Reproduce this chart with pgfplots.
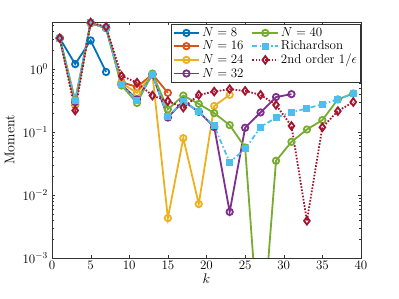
\RequirePackage{fix-cm}
\documentclass[12pt,border=0pt]{standalone}
\usepackage{pgfplots}
\pgfplotsset{compat=1.18}
\definecolor{c1}{rgb}{0,0.447,0.741}
\definecolor{c2}{rgb}{0.85,0.325,0.098}
\definecolor{c3}{rgb}{0.929,0.694,0.125}
\definecolor{c4}{rgb}{0.494,0.184,0.556}
\definecolor{c5}{rgb}{0.466,0.674,0.188}
\definecolor{c6}{rgb}{0.301,0.745,0.933}
\definecolor{c7}{rgb}{0.635,0.078,0.184}
\newcommand{\myfont}{\fontsize{13}{15}\selectfont}
\newcommand{\labfont}{\fontsize{14}{16}\selectfont}
\pgfplotsset{
  sA/.style={c1, line width=1.8pt, mark=o, mark size=3.2pt, mark options={solid}},
  sB/.style={c2, line width=1.8pt, mark=o, mark size=3.2pt, mark options={solid}},
  sC/.style={c3, line width=1.8pt, mark=o, mark size=3.2pt, mark options={solid}},
  sD/.style={c4, line width=1.8pt, mark=o, mark size=3.2pt, mark options={solid}},
  sE/.style={c5, line width=1.8pt, mark=o, mark size=3.2pt, mark options={solid}},
  sF/.style={c6, line width=1.8pt, dash pattern=on 5pt off 2.5pt on 1.5pt off 2.5pt, mark=square*, mark size=2.6pt, mark options={solid}},
  sG/.style={c7, line width=1.8pt, dash pattern=on 1.6pt off 1.6pt, mark=diamond, mark size=3.8pt, mark options={solid}},
}
\begin{document}
\begin{tikzpicture}[font=\myfont]
\useasboundingbox (0,0) rectangle (399pt,299pt);
\begin{axis}[
  at={(52pt,41pt)}, anchor=south west, scale only axis,
  width=309pt, height=236pt,
  xmin=0, xmax=40, ymode=log, ymin=1e-3, ymax=5.6,
  xtick={0,5,...,40},
  tick align=inside, major tick length=3pt, minor tick length=1.6pt,
  axis line style={black!80}, tick style={black!80},
  tick label style={font=\myfont},
  label style={font=\labfont},
  xticklabel style={yshift=1pt},
  xlabel={$k$}, ylabel={Moment},
  xlabel style={yshift=4pt},
  ylabel style={yshift=0pt},
  legend columns=2,
  legend cell align=left,
  legend style={font=\myfont, at={(rel axis cs:0.997,0.99)}, anchor=north east, draw=black!80, line width=0.5pt, inner sep=1pt, row sep=-1.5pt,
    /tikz/every even column/.append style={column sep=6pt}},
  legend image code/.code={\draw[mark repeat=2,mark phase=2] plot coordinates {(0cm,0cm)(0.45cm,0cm)(0.9cm,0cm)};},
]
\addplot[sA, forget plot] coordinates {(1,3.1)(3,1.2)(5,2.85)(7,0.9)};
\addplot[sB, forget plot] coordinates {(1,3.1)(3,0.27)(5,5.4)(7,4.5)(9,0.62)(11,0.52)(13,0.83)(15,0.42)};
\addplot[sC, forget plot] coordinates {(1,3.1)(3,0.28)(5,5.4)(7,4.5)(9,0.60)(11,0.42)(13,0.83)(15,0.0043)(17,0.08)(19,0.0072)(21,0.26)(23,0.39)};
\addplot[sD, forget plot] coordinates {(1,3.1)(3,0.30)(5,5.4)(7,4.5)(9,0.57)(11,0.33)(13,0.82)(15,0.17)(17,0.31)(19,0.21)(21,0.12)(23,0.0054)(25,0.117)(27,0.205)(29,0.36)(31,0.40)};
\addplot[sE, forget plot] coordinates {(1,3.1)(3,0.32)(5,5.4)(7,4.5)(9,0.55)(11,0.29)(13,0.85)(15,0.23)(17,0.38)(19,0.28)(21,0.20)(23,0.129)(25,0.057)(27,2.5e-5)(29,0.035)(31,0.07)(33,0.11)(35,0.155)(37,0.33)(39,0.41)};
\addplot[sF, forget plot] coordinates {(1,3.1)(3,0.32)(5,5.4)(7,4.5)(9,0.56)(11,0.32)(13,0.82)(15,0.175)(17,0.31)(19,0.21)(21,0.125)(23,0.033)(25,0.054)(27,0.12)(29,0.17)(31,0.205)(33,0.238)(35,0.275)(37,0.33)(39,0.41)};
\addplot[sG, forget plot] coordinates {(1,3.1)(3,0.22)(5,5.5)(7,4.7)(9,0.78)(11,0.61)(13,0.38)(15,0.31)(17,0.245)(19,0.39)(21,0.44)(23,0.48)(25,0.45)(27,0.39)(29,0.27)(31,0.125)(33,0.0039)(35,0.119)(37,0.215)(39,0.30)};
\addlegendimage{sA}\addlegendentry{$N=8$}
\addlegendimage{sE}\addlegendentry{$N=40$}
\addlegendimage{sB}\addlegendentry{$N=16$}
\addlegendimage{sF}\addlegendentry{Richardson}
\addlegendimage{sC}\addlegendentry{$N=24$}
\addlegendimage{sG}\addlegendentry{2nd order $1/\epsilon$}
\addlegendimage{sD}\addlegendentry{$N=32$}
\end{axis}
\end{tikzpicture}
\end{document}
